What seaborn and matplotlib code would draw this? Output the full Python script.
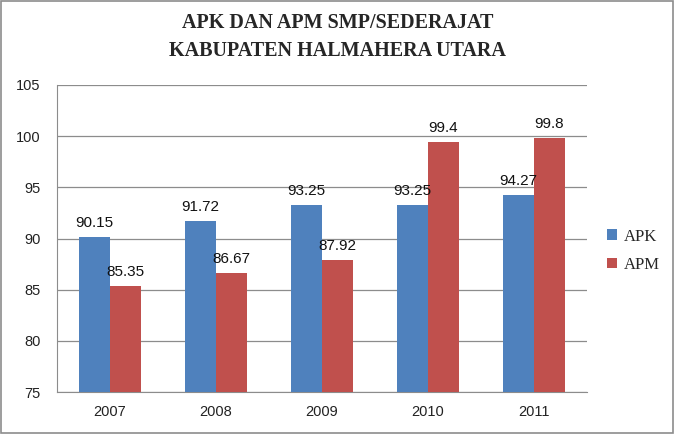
import pandas as pd
import seaborn as sns
import matplotlib.pyplot as plt

# data
tahun = ['2007', '2008', '2009', '2010', '2011']
apk = [90.15, 91.72, 93.25, 93.25, 94.27]
apm = [85.35, 86.67, 87.92, 99.4, 99.8]
label_apk = ['90.15', '91.72', '93.25', '93.25', '94.27']
label_apm = ['85.35', '86.67', '87.92', '99.4', '99.8']

df = pd.DataFrame({
	'tahun': tahun * 2,
	'nilai': apk + apm,
	'seri': ['APK'] * 5 + ['APM'] * 5,
})

sns.set_style('white')
plt.rcParams['font.family'] = ['Liberation Sans', 'DejaVu Sans']

fig = plt.figure(figsize=(6.75, 4.34), dpi=100)
ax = fig.add_axes([57/675, 1 - 392/434, 530/675, 307/434])

sns.barplot(data=df, x='tahun', y='nilai', hue='seri',
	palette=['#4f81bd', '#c0504d'], width=0.58, saturation=1,
	linewidth=0, ax=ax, zorder=3)

ax.set_ylim(75, 105)
ax.set_yticks(range(75, 106, 5))
ax.grid(axis='y', color='#8c8c8c', linewidth=0.9, zorder=0)
ax.set_xlabel('')
ax.set_ylabel('')
for s in ['top', 'right']:
	ax.spines[s].set_visible(False)
for s in ['left', 'bottom']:
	ax.spines[s].set_color('#8c8c8c')
ax.tick_params(axis='both', length=0, labelsize=10.5, colors='#222222')
ax.tick_params(axis='y', pad=12)
ax.tick_params(axis='x', pad=9)

# label nilai di atas batang
for cont, labs in zip(ax.containers, [label_apk, label_apm]):
	ax.bar_label(cont, labels=labs, padding=5, fontsize=11, color='#111111')

h, l = ax.get_legend_handles_labels()
ax.legend(h, l, loc='center left', bbox_to_anchor=(1.01, 0.46), frameon=False,
	prop={'family': 'Liberation Serif', 'size': 12},
	handlelength=0.6, handleheight=0.6, handletextpad=0.4, labelspacing=0.75)

fig.text(0.5, 0.915, 'APK DAN APM SMP/SEDERAJAT\nKABUPATEN HALMAHERA UTARA',
	ha='center', va='center', fontsize=14.5, fontweight='bold',
	family='Liberation Serif', linespacing=1.5)

# bingkai luar
fig.patches.append(plt.Rectangle((0.002, 0.003), 0.995, 0.994, transform=fig.transFigure,
	fill=False, edgecolor='#8c8c8c', linewidth=1.2))

plt.savefig('out.png', dpi=100)
